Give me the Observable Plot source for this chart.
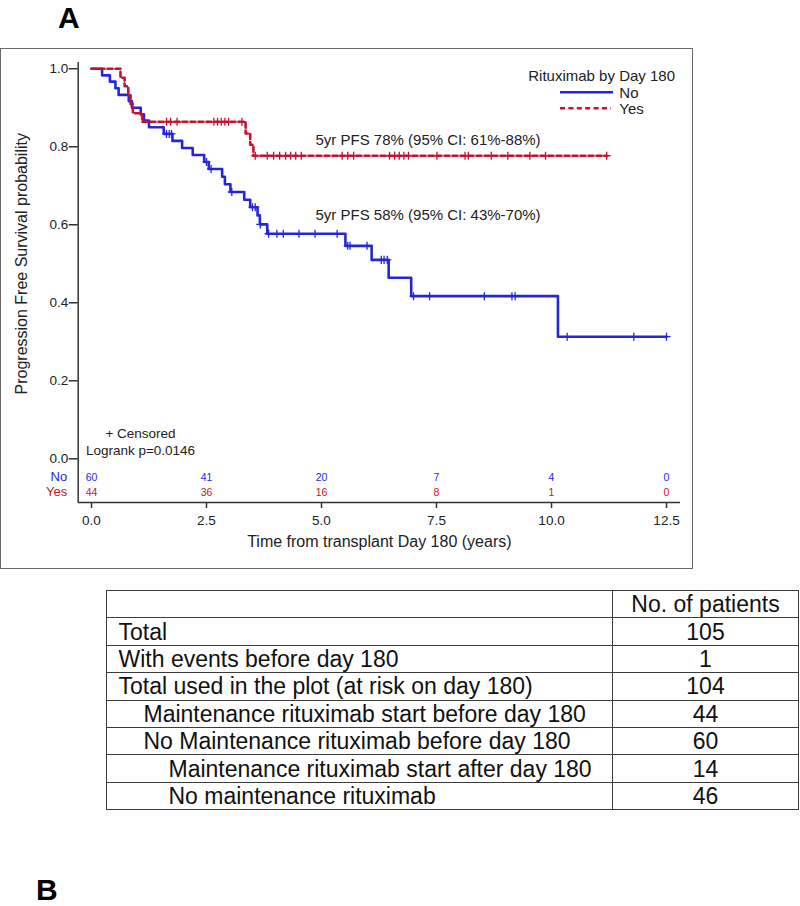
<!DOCTYPE html>
<html>
<head>
<meta charset="utf-8">
<script src="https://cdn.jsdelivr.net/npm/d3@7"></script>
<script src="https://cdn.jsdelivr.net/npm/@observablehq/plot@0.6"></script>
<style>
  html, body { margin: 0; padding: 0; background: #fff; }
  body { width: 800px; height: 906px; position: relative; overflow: hidden; font-family: "Liberation Sans", Arial, sans-serif; color: #111; }
  .panel { position: absolute; font-weight: bold; font-size: 30px; line-height: 1; font-family: "Liberation Sans", Arial, sans-serif; color: #000; }
  #frame { position: absolute; left: 0px; top: 48px; width: 691px; height: 519px; border: 1.5px solid #6a6a6a; }
  #chart { position: absolute; left: 0; top: 0; }
  #legend { position: absolute; left: 0; top: 0; pointer-events: none; }
  #tbl { position: absolute; left: 106px; top: 590px; width: 693px; border-collapse: collapse; font-family: "Liberation Sans", Arial, sans-serif; font-size: 23px; color: #111; }
  #tbl td { border: 1.3px solid #3c3c3c; padding: 0; height: 26.4px; line-height: 26px; white-space: nowrap; }
  #tbl td.c2 { text-align: center; width: 185px; }
</style>
</head>
<body>
<div class="panel" style="left:58px; top:3px;">A</div>
<div id="frame"><div id="chart"></div></div>
<div class="panel" style="left:36px; top:875px;">B</div>
<table id="tbl"></table>
<script>
// ---------- Data ----------
// Kaplan-Meier step points (time in years, survival after the step)
const noTimes = [0.23, 0.40, 0.52, 0.59, 0.81, 0.88, 1.07, 1.14, 1.25, 1.57, 1.76, 1.97, 2.20, 2.45, 2.55, 2.84, 2.90, 3.02, 3.32, 3.45, 3.61, 3.66, 3.82, 5.52, 6.09, 6.46, 6.95, 10.14];
const noSurv  = [0.983, 0.967, 0.950, 0.933, 0.917, 0.900, 0.883, 0.867, 0.850, 0.833, 0.815, 0.797, 0.779, 0.761, 0.743, 0.723, 0.704, 0.684, 0.664, 0.645, 0.624, 0.601, 0.577, 0.546, 0.510, 0.464, 0.417, 0.313];
const noEnd = 12.5;
const noCensor = [1.63, 1.69, 1.74, 2.50, 2.60, 3.05, 3.50, 3.56, 3.67, 3.85, 4.03, 4.17, 4.51, 4.86, 5.34, 5.57, 5.62, 5.99, 6.30, 6.36, 6.43, 7.00, 7.35, 8.54, 9.14, 9.21, 10.34, 11.79, 12.50];

const yesTimes = [0.63, 0.72, 0.80, 0.85, 0.90, 1.10, 3.35, 3.45, 3.52];
const yesSurv  = [0.977, 0.955, 0.932, 0.909, 0.886, 0.864, 0.834, 0.805, 0.777];
const yesEnd = 11.2;
const yesCensor = [1.63, 1.72, 1.86, 2.66, 2.74, 2.82, 2.90, 2.98, 3.27, 3.56, 3.82, 3.96, 4.09, 4.22, 4.33, 4.44, 4.56, 5.45, 5.57, 5.70, 6.48, 6.59, 6.69, 6.79, 6.89, 7.51, 8.12, 8.19, 8.69, 9.05, 9.53, 9.87, 11.2];

// Numbers at risk
const riskTimes = [0, 2.5, 5, 7.5, 10, 12.5];
const riskNo  = [60, 41, 20, 7, 4, 0];
const riskYes = [44, 36, 16, 8, 1, 0];

// Axis ticks
const xTicks = [0, 2.5, 5, 7.5, 10, 12.5];
const yTicks = [0, 0.2, 0.4, 0.6, 0.8, 1.0];

// Texts
const groupNames = ["No", "Yes"];
const legendTitle = "Rituximab by Day 180";
const pfsNo = "5yr PFS 58% (95% CI: 43%-70%)";
const pfsYes = "5yr PFS 78% (95% CI: 61%-88%)";
const pfsX = 4.87, pfsYesY = 0.816, pfsNoY = 0.624;
const censorNote = "+ Censored";
const logrankNote = "Logrank p=0.0146";
const xLabel = "Time from transplant Day 180 (years)";
const yLabel = "Progression Free Survival probability";

// Table
const tableHeader = "No. of patients";
const tableLabels = ["Total", "With events before day 180", "Total used in the plot (at risk on day 180)", "Maintenance rituximab start before day 180", "No Maintenance rituximab before day 180", "Maintenance rituximab start after day 180", "No maintenance rituximab"];
const tableValues = [105, 1, 104, 44, 60, 14, 46];
const tableLevels = [0, 0, 0, 1, 1, 2, 2];

// ---------- Build ----------
const BLUE = "#2626d9";
const RED = "#c4122f";
const FONT = '"Liberation Sans", Arial, sans-serif';

function stepData(times, surv, end) {
  const pts = [{t: 0, s: 1}];
  times.forEach((t, i) => pts.push({t, s: surv[i]}));
  pts.push({t: end, s: surv[surv.length - 1]});
  return pts;
}
function survAt(times, surv, t) {
  let s = 1;
  for (let i = 0; i < times.length; i++) if (times[i] <= t) s = surv[i];
  return s;
}
const noLine = stepData(noTimes, noSurv, noEnd);
const yesLine = stepData(yesTimes, yesSurv, yesEnd);
const noCens = noCensor.map(t => ({t, s: survAt(noTimes, noSurv, t)}));
const yesCens = yesCensor.map(t => ({t, s: survAt(yesTimes, yesSurv, t)}));
const risk = riskTimes.map((t, i) => ({t, no: riskNo[i], yes: riskYes[i]}));

const chart = Plot.plot({
  width: 691,
  height: 519,
  marginLeft: 76.7,
  marginRight: 12,
  marginTop: 13,
  marginBottom: 66,
  style: {fontFamily: FONT, fontSize: "13.5px", color: "#222", background: "transparent", overflow: "visible"},
  x: {domain: [-0.289, 12.804]},
  y: {domain: [-0.112, 1.016]},
  marks: [
    Plot.axisX({ticks: xTicks, tickFormat: d => d.toFixed(1), tickSize: 6, tickPadding: 7, label: null, fontSize: 13.5, strokeWidth: 1.5, stroke: "#333", fill: "#222"}),
    Plot.axisY({ticks: yTicks, tickFormat: d => d.toFixed(1), tickSize: 9, tickPadding: 1, label: null, fontSize: 13.5, strokeWidth: 1.5, stroke: "#333", fill: "#222"}),
    Plot.ruleX([-0.289], {stroke: "#333", strokeWidth: 1.5}),
    Plot.ruleY([-0.112], {stroke: "#333", strokeWidth: 1.5}),
    Plot.line(noLine, {x: "t", y: "s", curve: "step-after", stroke: BLUE, strokeWidth: 2.6}),
    Plot.line(yesLine, {x: "t", y: "s", curve: "step-after", stroke: RED, strokeWidth: 2.6, strokeDasharray: "5,3"}),
    Plot.dot(noCens, {x: "t", y: "s", symbol: "plus", r: 2.7, stroke: BLUE, strokeWidth: 1.3}),
    Plot.dot(yesCens, {x: "t", y: "s", symbol: "plus", r: 2.7, stroke: RED, strokeWidth: 1.3}),
    Plot.text([{x: pfsX, y: pfsYesY, label: pfsYes}, {x: pfsX, y: pfsNoY, label: pfsNo}], {x: "x", y: "y", text: "label", textAnchor: "start", fontSize: 15, fill: "#222"}),
    Plot.text(risk, {x: "t", text: "no", frameAnchor: "bottom", dy: -22, fill: BLUE, fontSize: 10.5}),
    Plot.text(risk, {x: "t", text: "yes", frameAnchor: "bottom", dy: -6.3, fill: RED, fontSize: 10.5}),
    Plot.text([groupNames[0]], {frameAnchor: "bottom-left", dx: -11, dy: -22, textAnchor: "end", fill: BLUE, fontSize: 13}),
    Plot.text([groupNames[1]], {frameAnchor: "bottom-left", dx: -11, dy: -6.3, textAnchor: "end", fill: RED, fontSize: 13}),
    Plot.text([censorNote], {frameAnchor: "bottom-left", textAnchor: "middle", dx: 62.3, dy: -64.3, fontSize: 13.5, fill: "#222"}),
    Plot.text([logrankNote], {frameAnchor: "bottom-left", textAnchor: "middle", dx: 62.3, dy: -48, fontSize: 13.5, fill: "#222"}),
    Plot.text([xLabel], {frameAnchor: "bottom", textAnchor: "middle", dy: 44.7, fontSize: 16, fill: "#222"}),
    Plot.text([{y: 0.5, label: yLabel}], {y: "y", text: "label", frameAnchor: "left", textAnchor: "middle", dx: -56, rotate: -90, fontSize: 16, fill: "#222"})
  ]
});
document.getElementById("chart").appendChild(chart);

// Legend (drawn as an overlay in page coordinates)
const lg = d3.select("body").append("svg").attr("id", "legend").attr("width", 800).attr("height", 140)
  .style("font-family", FONT);
lg.append("text").attr("x", 675).attr("y", 76).attr("dy", "0.35em").attr("text-anchor", "end")
  .attr("font-size", 15).attr("fill", "#222").text(legendTitle);
lg.append("line").attr("x1", 560).attr("x2", 613).attr("y1", 92.3).attr("y2", 92.3)
  .attr("stroke", BLUE).attr("stroke-width", 2.6);
lg.append("line").attr("x1", 560).attr("x2", 611).attr("y1", 108.3).attr("y2", 108.3)
  .attr("stroke", RED).attr("stroke-width", 2.6).attr("stroke-dasharray", "5,3.4");
lg.append("text").attr("x", 619.3).attr("y", 92.3).attr("dy", "0.35em").attr("font-size", 15).attr("fill", "#222").text(groupNames[0]);
lg.append("text").attr("x", 619.3).attr("y", 108.3).attr("dy", "0.35em").attr("font-size", 15).attr("fill", "#222").text(groupNames[1]);

// Table
const tbl = d3.select("#tbl");
const hr = tbl.append("tr");
hr.append("td").html("&nbsp;");
hr.append("td").attr("class", "c2").text(tableHeader);
tableLabels.forEach((lab, i) => {
  const tr = tbl.append("tr");
  tr.append("td").style("padding-left", (11.5 + 25 * tableLevels[i]) + "px").text(lab);
  tr.append("td").attr("class", "c2").text(tableValues[i]);
});
</script>
</body>
</html>
